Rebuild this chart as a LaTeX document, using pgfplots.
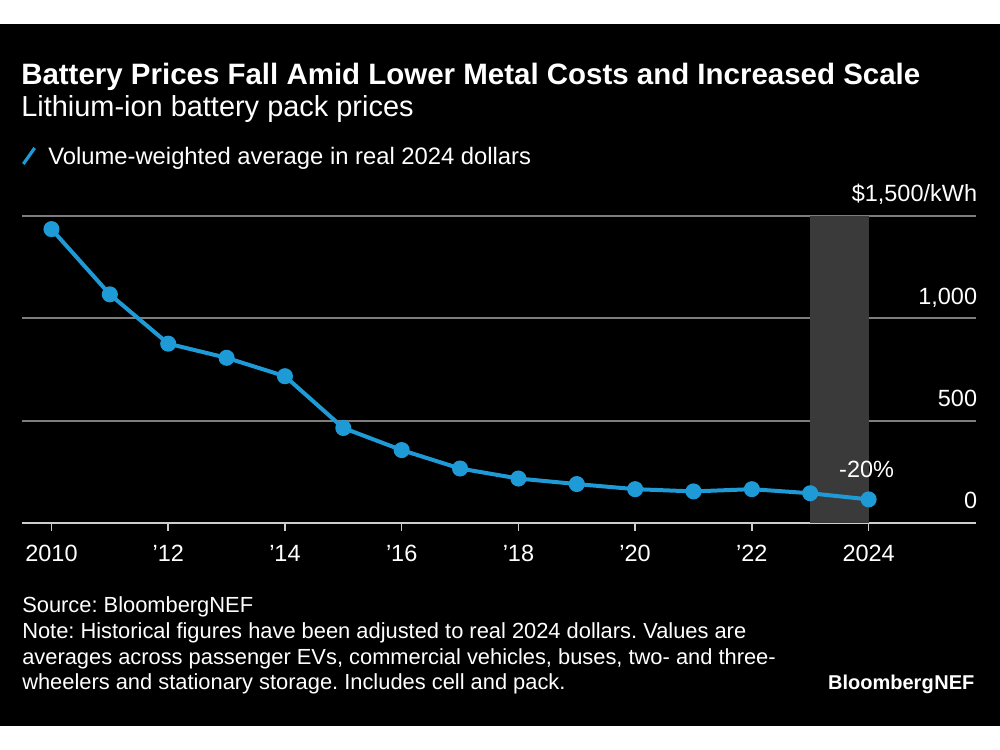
\documentclass[border=0pt]{standalone}
\usepackage{fontspec}
\setmainfont{Liberation Sans}
\usepackage{pgfplots}
\pgfplotsset{compat=1.18}
\definecolor{bnblue}{RGB}{30,155,215}
\definecolor{gridgray}{RGB}{125,125,125}
\definecolor{basegray}{RGB}{205,205,205}
\definecolor{bandgray}{RGB}{58,58,58}
\frenchspacing
\begin{document}
\begin{tikzpicture}
\fill[white] (0,0) rectangle (750pt,562.5pt);
\fill[black] (0,18pt) rectangle (750pt,544.5pt);
% titles
\node[anchor=base west, inner sep=0pt, text=white, font=\fontsize{22.1}{26}\selectfont\bfseries] at (15.75pt,499.1pt) {Battery Prices Fall Amid Lower Metal Costs and Increased Scale};
\node[anchor=base west, inner sep=0pt, text=white, font=\fontsize{21.7}{25}\selectfont] at (15.75pt,474.75pt) {Lithium-ion battery pack prices};
\draw[bnblue, line width=2.4pt] (17.5pt,439.5pt) -- (26pt,451.5pt);
\node[anchor=base west, inner sep=0pt, text=white, font=\fontsize{17.85}{21}\selectfont] at (36pt,439.1pt) {Volume-weighted average in real 2024 dollars};
% footer
\node[anchor=base west, inner sep=0pt, text=white, font=\fontsize{16.4}{19}\selectfont, align=left] at (16.5pt,102.75pt) {Source: BloombergNEF};
\node[anchor=base west, inner sep=0pt, text=white, font=\fontsize{16.4}{19}\selectfont] at (16.5pt,83.25pt) {Note: Historical figures have been adjusted to real 2024 dollars. Values are};
\node[anchor=base west, inner sep=0pt, text=white, font=\fontsize{16.4}{19}\selectfont] at (16.5pt,64.1pt) {averages across passenger EVs, commercial vehicles, buses, two- and three-};
\node[anchor=base west, inner sep=0pt, text=white, font=\fontsize{16.4}{19}\selectfont] at (16.5pt,45pt) {wheelers and stationary storage. Includes cell and pack.};
\node[anchor=base east, inner sep=0pt, text=white, font=\fontsize{15}{18}\selectfont\bfseries] at (731pt,45pt) {Bloomberg\kern0.5pt NEF};
\begin{axis}[
  at={(16.5pt,170.3pt)}, anchor=south west,
  scale only axis, width=715.5pt, height=230.2pt,
  xmin=2009.495, xmax=2025.84, ymin=0, ymax=1500,
  clip=false,
  axis x line=bottom, axis y line=right,
  x axis line style={-, draw=basegray, line width=1.5pt},
  y axis line style={draw=none},
  xtick={2010,2012,2014,2016,2018,2020,2022,2024},
  xticklabels={2010,{'12},{'14},{'16},{'18},{'20},{'22},2024},
  ytick={0,500,1000,1500},
  yticklabels={0,500,{1,000},{\$1,500/kWh}},
  tick align=outside,
  major tick length=6pt,
  xtick style={draw=basegray, line width=1.1pt},
  ytick style={draw=none},
  ymajorgrids,
  grid style={draw=gridgray, line width=1.4pt},
  ticklabel style={text=white, font=\fontsize{17.6}{20}\selectfont},
  /pgf/number format/assume math mode=true,
  xticklabel style={anchor=base, inner sep=0pt, yshift=-23pt},
  yticklabel style={anchor=base east, inner sep=0pt, xshift=-5pt, yshift=10.5pt},
]
\addplot[fill=bandgray, draw=none] coordinates {(2023,0) (2023,1500) (2024,1500) (2024,0)} -- cycle;
\addplot[color=bnblue, line width=3pt, mark=*, mark size=4.5pt, mark options={fill=bnblue, draw=none}] coordinates {
(2010,1436) (2011,1117) (2012,876) (2013,807) (2014,717) (2015,464) (2016,356) (2017,266) (2018,217) (2019,190) (2020,165) (2021,154) (2022,165) (2023,145) (2024,115)
};
\node[anchor=base, inner sep=0pt, text=white, font=\fontsize{17.6}{20}\selectfont] at (axis cs:2024,0) [xshift=-1.5pt, yshift=34.4pt] {-20\%};
\end{axis}
\end{tikzpicture}
\end{document}
